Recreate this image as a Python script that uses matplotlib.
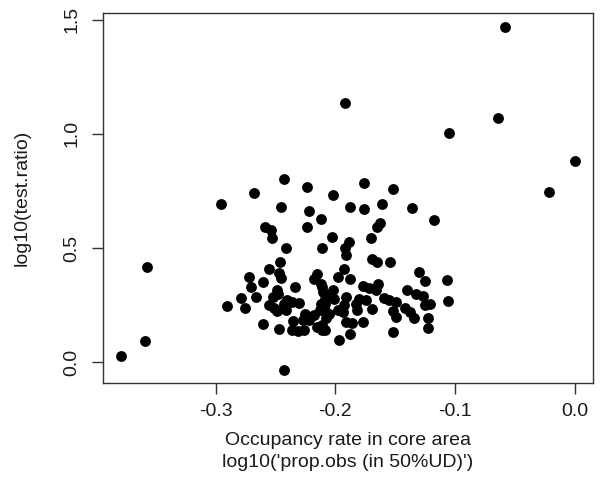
import matplotlib
matplotlib.use("Agg")
import matplotlib.pyplot as plt
import numpy as np

plt.rcParams['font.family'] = ['Liberation Sans', 'DejaVu Sans']
plt.rcParams['axes.unicode_minus'] = False

# log10 of occupancy rate in core area (x) and log10 of test ratio (y)
occ_rate = [-0.379, -0.359, -0.357, -0.295, -0.268, -0.243, -0.224, -0.202, -0.192, -0.176,
            -0.152, -0.105, -0.064, -0.058, -0.022, 0.000, -0.245, -0.222, -0.212, -0.224,
            -0.259, -0.254, -0.253, -0.241, -0.246, -0.211, -0.203, -0.188, -0.176, -0.161,
            -0.136, -0.118, -0.163, -0.165, -0.170, -0.189, -0.192, -0.191, -0.169, -0.165,
            -0.154, -0.130, -0.125, -0.107, -0.106, -0.255, -0.247, -0.245, -0.272, -0.270,
            -0.260, -0.234, -0.249, -0.248, -0.252, -0.279, -0.266, -0.290, -0.275, -0.255,
            -0.251, -0.249, -0.243, -0.240, -0.236, -0.230, -0.241, -0.260, -0.247, -0.235,
            -0.236, -0.231, -0.226, -0.243, -0.225, -0.227, -0.222, -0.218, -0.215, -0.211,
            -0.218, -0.215, -0.211, -0.209, -0.212, -0.213, -0.208, -0.193, -0.198, -0.188,
            -0.177, -0.172, -0.164, -0.166, -0.140, -0.133, -0.127, -0.159, -0.155, -0.149,
            -0.142, -0.138, -0.134, -0.125, -0.121, -0.123, -0.123, -0.152, -0.149, -0.152,
            -0.169, -0.180, -0.183, -0.174, -0.182, -0.191, -0.193, -0.198, -0.194, -0.191,
            -0.186, -0.177, -0.188, -0.197, -0.208, -0.209, -0.205, -0.208, -0.211, -0.209,
            -0.202, -0.201, -0.212, -0.210]
test_ratio = [0.027, 0.094, 0.417, 0.691, 0.741, 0.802, 0.766, 0.732, 1.134, 0.786,
              0.760, 1.003, 1.068, 1.468, 0.746, 0.881, 0.679, 0.660, 0.626, 0.593,
              0.591, 0.581, 0.542, 0.499, 0.440, 0.499, 0.550, 0.680, 0.669, 0.692,
              0.675, 0.623, 0.610, 0.594, 0.544, 0.528, 0.499, 0.471, 0.453, 0.439,
              0.440, 0.395, 0.356, 0.359, 0.268, 0.406, 0.391, 0.370, 0.373, 0.331,
              0.349, 0.329, 0.318, 0.297, 0.285, 0.281, 0.285, 0.246, 0.239, 0.252,
              0.239, 0.224, 0.256, 0.274, 0.263, 0.259, 0.227, 0.165, 0.144, 0.180,
              0.139, 0.136, 0.139, -0.033, 0.212, 0.183, 0.183, 0.205, 0.154, 0.142,
              0.365, 0.387, 0.329, 0.278, 0.256, 0.227, 0.219, 0.410, 0.373, 0.362,
              0.335, 0.326, 0.344, 0.315, 0.318, 0.299, 0.288, 0.281, 0.271, 0.263,
              0.239, 0.219, 0.195, 0.252, 0.253, 0.191, 0.148, 0.223, 0.198, 0.132,
              0.234, 0.278, 0.256, 0.271, 0.230, 0.285, 0.249, 0.227, 0.219, 0.176,
              0.171, 0.176, 0.121, 0.097, 0.285, 0.256, 0.212, 0.191, 0.161, 0.139,
              0.315, 0.278, 0.344, 0.307]

x_ticks = [-0.3, -0.2, -0.1, 0.0]
y_ticks = [0.0, 0.5, 1.0, 1.5]
x_title = "Occupancy rate in core area\nlog10('prop.obs (in 50%UD)')"
y_title = "log10(test.ratio)"

x = np.array(occ_rate)
y = np.array(test_ratio)

fig = plt.figure(figsize=(6.04, 4.80), dpi=100)
ax = fig.add_axes([0.170, 0.2015, 0.812, 0.7705])

ax.plot(x, y, 'o', color='black', markersize=7.8, markeredgewidth=0)

# R style limits: 4% padding around the data range
xpad = (x.max() - x.min()) * 0.04
ypad = (y.max() - y.min()) * 0.04
ax.set_xlim(x.min() - xpad, x.max() + xpad)
ax.set_ylim(y.min() - ypad, y.max() + ypad)

ax.set_xticks(x_ticks)
ax.set_xticklabels(["%.1f" % v for v in x_ticks])
ax.set_yticks(y_ticks)
ax.set_yticklabels(["%.1f" % v for v in y_ticks], rotation=90, va='center')

ax.tick_params(axis='both', direction='out', length=7.9, width=1.0, color='#333333',
               labelsize=14, labelcolor='#1a1a1a')
ax.tick_params(axis='x', pad=6)
ax.tick_params(axis='y', pad=8)

for s in ax.spines.values():
    s.set_linewidth(1.0)
    s.set_color('#333333')

ax.set_xlabel(x_title, fontsize=14, color='#1a1a1a', labelpad=9, linespacing=1.4)
ax.set_ylabel(y_title, fontsize=14, color='#1a1a1a', labelpad=24)

fig.savefig('out.png', dpi=100, facecolor='white')
